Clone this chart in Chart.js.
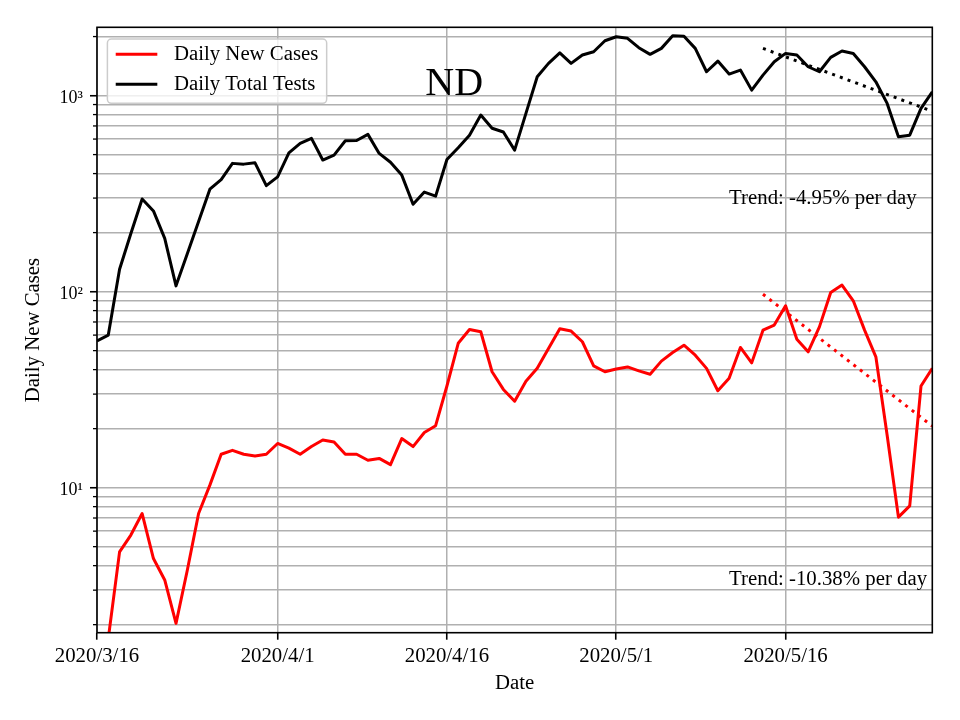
<!DOCTYPE html>
<html>
<head>
<meta charset="utf-8">
<script src="https://cdn.jsdelivr.net/npm/chart.js@4/dist/chart.umd.min.js"></script>
<style>
  html, body { margin: 0; padding: 0; background: #ffffff; }
  canvas { display: block; }
</style>
</head>
<body>
<canvas id="c" width="960" height="720"></canvas>
<script>
// ---------------- data ----------------
const startDate = '2020/3/16';            // day 0 of the series
const seriesNames = ['Daily New Cases', 'Daily Total Tests'];
const chartTitle = 'ND';

// one value per day, day 0 = 2020/3/16 ... day 74 = 2020/5/29
const newCases = [
  1, 1.7, 4.7, 5.73, 7.38, 4.35, 3.38, 2.03, 3.79, 7.38,
  10.3, 14.8, 15.5, 14.8, 14.5, 14.8, 16.8, 15.9, 14.8, 16.2,
  17.5, 17.1, 14.8, 14.8, 13.8, 14.1, 13.1, 17.8, 16.2, 19.1,
  20.7, 33, 54.5, 64.1, 62.4, 39.0, 31.7, 27.6, 34.9, 40.6,
  51.3, 64.6, 62.9, 55.5, 41.8, 39.0, 40.3, 41.3, 39.4, 37.9,
  44.2, 48.9, 53.3, 47.4, 40.6, 31.2, 36.1, 51.9, 43.3, 63.6,
  67.5, 84.7, 57.1, 49.3, 66.1, 99.0, 108, 89.8, 63.6, 46.5,
  18.5, 7.07, 8.07, 33.0, 40.6
];
const totalTests = [
  56, 60, 130, 198, 297, 258, 187, 107, 156, 228,
  333, 373, 451, 447, 454, 347, 385, 510, 570, 605,
  469, 497, 588, 590, 634, 507, 457, 393, 279, 322,
  307, 472, 542, 628, 796, 681, 652, 527, 811, 1247,
  1460, 1653, 1460, 1610, 1674, 1905, 1996, 1959, 1755, 1623,
  1741, 2018, 2010, 1741, 1323, 1500, 1287, 1349, 1066, 1272,
  1487, 1641, 1610, 1403, 1323, 1567, 1687, 1641, 1403, 1176,
  912, 617, 628, 860, 1045
];

// trend lines (start / end day and value)
const trendDays = [59, 74];
const testsTrend = [1740, 832];
const casesTrend = [97, 20.6];
const trendLabels = ['Trend: -4.95% per day', 'Trend: -10.38% per day'];
const trendLabelDay = 56;
const trendLabelValues = [279, 3.2];

// x ticks
const xTickDays = [0, 16, 31, 46, 61];
const xTickLabels = ['2020/3/16', '2020/4/1', '2020/4/16', '2020/5/1', '2020/5/16'];
const xMax = 74;

// y range (log)
const yMin = 1.82;
const yMax = 2230;
const supDigits = ['\u2070', '\u00B9', '\u00B2', '\u00B3', '\u2074'];

// ---------------- helpers ----------------
const SERIF = "'Liberation Serif', 'Times New Roman', Times, serif";
function isPow10(v) {
  const l = Math.log10(v);
  return Math.abs(l - Math.round(l)) < 1e-9;
}
function toPoints(vals, days) {
  return vals.map((v, i) => ({ x: days ? days[i] : i, y: v }));
}

// ---------------- decorations plugin ----------------
const decor = {
  id: 'decor',
  afterDatasetsDraw(chart) {
    const { ctx, chartArea: a, scales: { x, y } } = chart;
    ctx.save();

    // minor y ticks (shorter, like matplotlib)
    ctx.strokeStyle = '#000';
    ctx.lineWidth = 1.3;
    y.ticks.forEach(t => {
      if (!isPow10(t.value)) {
        const py = y.getPixelForValue(t.value);
        ctx.beginPath();
        ctx.moveTo(a.left - 4, py);
        ctx.lineTo(a.left, py);
        ctx.stroke();
      }
    });

    // spines (full box)
    ctx.strokeStyle = '#000';
    ctx.lineWidth = 1.6;
    ctx.strokeRect(a.left, a.top, a.right - a.left, a.bottom - a.top);

    // title inside axes
    ctx.fillStyle = '#000';
    ctx.font = '40px ' + SERIF;
    ctx.textAlign = 'left';
    ctx.textBaseline = 'alphabetic';
    ctx.fillText(chartTitle, a.left + 0.393 * (a.right - a.left), a.top + 0.112 * (a.bottom - a.top));

    // trend annotations
    ctx.font = '20.8px ' + SERIF;
    trendLabels.forEach((txt, i) => {
      ctx.fillText(txt, x.getPixelForValue(trendLabelDay), y.getPixelForValue(trendLabelValues[i]));
    });

    // legend
    const fs = 20.8;
    ctx.font = fs + 'px ' + SERIF;
    const names = chart.data.datasets.slice(0, 2);
    const tw = Math.max(...names.map(d => ctx.measureText(d.label).width));
    const lx = a.left + 0.5 * fs;
    const ly = a.top + 11.7;
    const lw = 0.4 * fs + 2.0 * fs + 0.8 * fs + tw + 0.4 * fs;
    const lh = 64.3;
    ctx.beginPath();
    ctx.roundRect(lx, ly, lw, lh, 4);
    ctx.fillStyle = 'rgba(255,255,255,0.8)';
    ctx.fill();
    ctx.strokeStyle = '#cccccc';
    ctx.lineWidth = 1.5;
    ctx.stroke();
    names.forEach((ds, i) => {
      const yy = ly + 15.3 + i * 30;
      const hx = lx + 0.4 * fs;
      ctx.strokeStyle = ds.borderColor;
      ctx.lineWidth = 3;
      ctx.lineCap = 'butt';
      ctx.beginPath();
      ctx.moveTo(hx, yy);
      ctx.lineTo(hx + 2.0 * fs, yy);
      ctx.stroke();
      ctx.fillStyle = '#000';
      ctx.textBaseline = 'middle';
      ctx.fillText(ds.label, hx + 2.8 * fs, yy + 0.5);
    });

    ctx.restore();
  }
};

// ---------------- chart ----------------
new Chart(document.getElementById('c'), {
  type: 'line',
  data: {
    datasets: [
      { label: seriesNames[0], data: toPoints(newCases), borderColor: '#ff0000', borderWidth: 3,
        pointRadius: 0, tension: 0, fill: false, borderJoinStyle: 'round' },
      { label: seriesNames[1], data: toPoints(totalTests), borderColor: '#000000', borderWidth: 3,
        pointRadius: 0, tension: 0, fill: false, borderJoinStyle: 'round' },
      { label: 'tests trend', data: toPoints(testsTrend, trendDays), borderColor: '#000000', borderWidth: 3,
        borderDash: [3, 5.2], borderCapStyle: 'butt', pointRadius: 0, fill: false },
      { label: 'cases trend', data: toPoints(casesTrend, trendDays), borderColor: '#ff0000', borderWidth: 3,
        borderDash: [3, 5.2], borderCapStyle: 'butt', pointRadius: 0, fill: false }
    ]
  },
  options: {
    responsive: false,
    animation: false,
    devicePixelRatio: 1,
    layout: { padding: { left: 0, right: 27.7, top: 27.3, bottom: 0 } },
    plugins: { legend: { display: false }, tooltip: { enabled: false } },
    scales: {
      x: {
        type: 'linear',
        min: 0,
        max: xMax,
        afterBuildTicks: s => { s.ticks = xTickDays.map(v => ({ value: v })); },
        afterFit: s => { s.height = 87.3; },
        ticks: {
          callback: v => { const k = xTickDays.indexOf(v); return k >= 0 ? xTickLabels[k] : ''; },
          autoSkip: false, maxRotation: 0, minRotation: 0,
          font: { family: SERIF, size: 20.8 }, color: '#000', padding: 4
        },
        grid: { color: '#b0b0b0', lineWidth: 1.5, tickColor: '#000', tickLength: 7, tickWidth: 1.6 },
        border: { display: false },
        title: { display: true, text: 'Date', font: { family: SERIF, size: 20.8 }, color: '#000',
                 padding: { top: 0, bottom: 24 } }
      },
      y: {
        type: 'logarithmic',
        min: yMin,
        max: yMax,
        afterBuildTicks: s => {
          const t = [];
          for (let e = 0; e <= 3; e++) {
            for (let m = 1; m <= 9; m++) {
              const v = m * Math.pow(10, e);
              if (v >= yMin && v <= yMax) t.push({ value: v, major: m === 1 });
            }
          }
          s.ticks = t;
        },
        afterFit: s => { s.width = 97; },
        ticks: {
          callback: v => isPow10(v) ? '10' + supDigits[Math.round(Math.log10(v))] : '',
          autoSkip: false,
          font: { family: SERIF, size: 18 }, color: '#000', padding: 7, labelOffset: 3
        },
        grid: {
          color: '#b0b0b0', lineWidth: 1.5,
          tickColor: c => (c.tick && isPow10(c.tick.value)) ? '#000' : 'rgba(0,0,0,0)',
          tickLength: 7, tickWidth: 1.6
        },
        border: { display: false },
        title: { display: true, text: 'Daily New Cases', font: { family: SERIF, size: 20.8 }, color: '#000',
                 padding: { top: 21, bottom: 0 } }
      }
    }
  },
  plugins: [decor]
});
</script>
</body>
</html>
